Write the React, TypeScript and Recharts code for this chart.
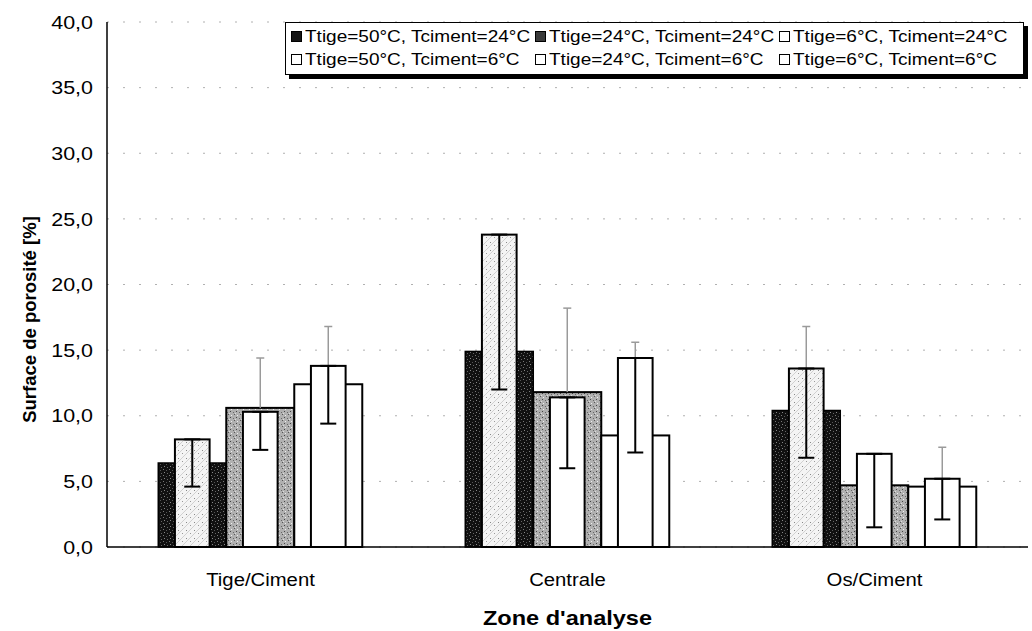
import { BarChart, Bar, XAxis, YAxis, CartesianGrid, ErrorBar, Legend, Label } from 'recharts';

const zones = ['Tige/Ciment', 'Centrale', 'Os/Ciment'];

// Tciment = 24°C (wide bars, behind)
const t50c24 = [6.4, 14.9, 10.4];
const t24c24 = [10.6, 11.8, 4.7];
const t6c24 = [12.4, 8.5, 4.6];
// Tciment = 6°C (narrow bars, in front)
const t50c6 = [8.2, 23.8, 13.6];
const t24c6 = [10.3, 11.4, 7.1];
const t6c6 = [13.8, 14.4, 5.2];

// upper error of the back series, lower error of the front series
const err50c24 = [1.5, 5.0, 6.4];
const err24c24 = [3.8, 6.4, 2.0];
const err6c24 = [4.4, 7.1, 3.0];
const err50c6 = [3.6, 11.8, 6.8];
const err24c6 = [2.9, 5.4, 5.6];
const err6c6 = [4.4, 7.2, 3.1];

const yTicks = [0, 5, 10, 15, 20, 25, 30, 35, 40];

const seriesNames: Record<string, string> = {
  t50c24: 'Ttige=50°C, Tciment=24°C',
  t24c24: 'Ttige=24°C, Tciment=24°C',
  t6c24: 'Ttige=6°C, Tciment=24°C',
  t50c6: 'Ttige=50°C, Tciment=6°C',
  t24c6: 'Ttige=24°C, Tciment=6°C',
  t6c6: 'Ttige=6°C, Tciment=6°C',
};
const legendOrder = ['t50c24', 't24c24', 't6c24', 't50c6', 't24c6', 't6c6'];

const data = zones.map((zone, i) => ({
  zone,
  t50c24: t50c24[i],
  t24c24: t24c24[i],
  t6c24: t6c24[i],
  t50c6: t50c6[i],
  t24c6: t24c6[i],
  t6c6: t6c6[i],
  u50c24: err50c24[i],
  u24c24: err24c24[i],
  u6c24: err6c24[i],
  e50c6: [err50c6[i], 0],
  e24c6: [err24c6[i], 0],
  e6c6: [err6c6[i], 0],
}));

const FONT = '"Liberation Sans", Arial, sans-serif';
const SX = 1.16; // the scan is a bit wider than tall

const swatchFill: Record<string, string> = {
  t50c24: '#151515',
  t24c24: '#3a3a3a',
  t6c24: '#fff',
  t50c6: '#fff',
  t24c6: '#fff',
  t6c6: '#fff',
};

function YTick({ x, y, payload }: any) {
  return (
    <text
      transform={`translate(${x},${y}) scale(${SX},1)`}
      textAnchor="end"
      dy="0.36em"
      fontSize={18.5}
      fontFamily={FONT}
      fill="#000"
    >
      {payload.value.toFixed(1).replace('.', ',')}
    </text>
  );
}

function XTick({ x, y, payload }: any) {
  return (
    <text
      transform={`translate(${x},${y + 31}) scale(${SX},1)`}
      textAnchor="middle"
      fontSize={17.5}
      fontFamily={FONT}
      fill="#000"
    >
      {payload.value}
    </text>
  );
}

// wide bar with its "plus" error bar, drawn in the bar layer so the front bars hide it
function BackBar(props: any) {
  const { x, y, width, height, fill, strokeWidth, payload, valKey, errKey } = props;
  const v = payload[valKey];
  const ppu = v ? height / v : 0;
  const cx = x + width / 2;
  const yTop = y - payload[errKey] * ppu;
  return (
    <g>
      <rect x={x} y={y} width={width} height={height} fill={fill} stroke="#000" strokeWidth={strokeWidth} />
      <line x1={cx} x2={cx} y1={y} y2={yTop} stroke="#9a9a9a" strokeWidth={1.5} />
      <line x1={cx - 4} x2={cx + 4} y1={yTop} y2={yTop} stroke="#9a9a9a" strokeWidth={1.5} />
    </g>
  );
}

function FrontBar(props: any) {
  const { x, y, width, height, fill } = props;
  const w = width * 0.51;
  return (
    <rect
      x={x + (width - w) / 2}
      y={y}
      width={w}
      height={height}
      fill={fill}
      stroke="#000"
      strokeWidth={2}
    />
  );
}

function LegendBox() {
  return (
    <div
      style={{
        border: '1px solid #000',
        boxShadow: '4px 4px 0 #000',
        background: '#fff',
        padding: '2px 0 3px 5px',
        display: 'flex',
        flexWrap: 'wrap',
        width: 732,
        fontFamily: FONT,
      }}
    >
      {legendOrder.map((k) => (
        <div key={k} style={{ width: 244, height: 23, display: 'flex', alignItems: 'center' }}>
          <span
            style={{
              width: 9,
              height: 9,
              border: '1.5px solid #000',
              background: swatchFill[k],
              marginRight: 3,
              flex: 'none',
            }}
          />
          <span
            style={{
              display: 'inline-block',
              fontSize: 16.4,
              color: '#000',
              whiteSpace: 'nowrap',
              transform: `scaleX(${SX})`,
              transformOrigin: 'left center',
            }}
          >
            {seriesNames[k]}
          </span>
        </div>
      ))}
    </div>
  );
}

export default function App() {
  return (
    <div style={{ position: 'absolute', left: 0, top: 0, width: 1032, height: 631, background: '#fff' }}>
      <BarChart
        width={1032}
        height={631}
        data={data}
        margin={{ top: 22, right: 4, left: 0, bottom: 44 }}
        barCategoryGap="16.7%"
        barGap={0}
      >
        <defs>
          <pattern id="darkDots" width="6" height="6" patternUnits="userSpaceOnUse">
            <rect width="6" height="6" fill="#111" />
            <rect x="1" y="1" width="1" height="1" fill="#777" />
            <rect x="4" y="2" width="1" height="1" fill="#555" />
            <rect x="2" y="4" width="1" height="1" fill="#888" />
            <rect x="5" y="5" width="1" height="1" fill="#666" />
          </pattern>
          <pattern id="greyDots" width="6" height="6" patternUnits="userSpaceOnUse">
            <rect width="6" height="6" fill="#b0b0b0" />
            <rect x="0" y="0" width="1" height="1" fill="#555" />
            <rect x="3" y="1" width="1" height="1" fill="#eee" />
            <rect x="2" y="3" width="1" height="1" fill="#444" />
            <rect x="5" y="4" width="1" height="1" fill="#666" />
            <rect x="1" y="5" width="1" height="1" fill="#ddd" />
          </pattern>
          <pattern id="lightHatch" width="8" height="8" patternUnits="userSpaceOnUse">
            <rect width="8" height="8" fill="#f4f4f4" />
            <path d="M0 8 L8 0" stroke="#c8c8c8" strokeWidth="0.8" />
            <rect x="2" y="2" width="1" height="1" fill="#888" />
            <rect x="6" y="5" width="1" height="1" fill="#999" />
          </pattern>
        </defs>
        <CartesianGrid vertical={false} stroke="#b0b0b0" strokeDasharray="2 14" />
        <XAxis
          xAxisId="back"
          dataKey="zone"
          height={40}
          tickLine={false}
          axisLine={{ stroke: '#000', strokeWidth: 1.5 }}
          tick={<XTick />}
        >
          <Label
            content={({ viewBox }: any) => (
              <text
                transform={`translate(${viewBox.x + viewBox.width / 2},${625}) scale(${SX},1)`}
                textAnchor="middle"
                fontSize={20.3}
                fontWeight="bold"
                fontFamily={FONT}
                fill="#000"
              >
                Zone d'analyse
              </text>
            )}
          />
        </XAxis>
        <XAxis xAxisId="front" dataKey="zone" hide />
        <YAxis
          width={107}
          domain={[0, 40]}
          ticks={yTicks}
          interval={0}
          tickLine={false}
          tickMargin={8}
          axisLine={{ stroke: '#000', strokeWidth: 1.5 }}
          tick={<YTick />}
        >
          <Label
            content={({ viewBox }: any) => {
              const cx = 30;
              const cy = viewBox.y + viewBox.height / 2 + 35;
              return (
                <text
                  transform={`rotate(-90 ${cx} ${cy})`}
                  x={cx}
                  y={cy}
                  textAnchor="middle"
                  dy="0.35em"
                  fontSize={18.5}
                  fontWeight="bold"
                  fontFamily={FONT}
                  fill="#000"
                >
                  Surface de porosité [%]
                </text>
              );
            }}
          />
        </YAxis>
        <YAxis
          yAxisId="frame"
          orientation="right"
          width={0}
          tick={false}
          tickLine={false}
          axisLine={{ stroke: '#777', strokeDasharray: '1 2' }}
        />
        <Legend
          layout="horizontal"
          verticalAlign="middle"
          align="center"
          wrapperStyle={{ top: 22, left: 285, width: 745 }}
          content={<LegendBox />}
        />

        <Bar
          xAxisId="back"
          dataKey="t50c24"
          name={seriesNames.t50c24}
          fill="url(#darkDots)"
          strokeWidth={1.5}
          shape={(p: any) => <BackBar {...p} valKey="t50c24" errKey="u50c24" />}
          isAnimationActive={false}
        />
        <Bar
          xAxisId="back"
          dataKey="t24c24"
          name={seriesNames.t24c24}
          fill="url(#greyDots)"
          strokeWidth={2}
          shape={(p: any) => <BackBar {...p} valKey="t24c24" errKey="u24c24" />}
          isAnimationActive={false}
        />
        <Bar
          xAxisId="back"
          dataKey="t6c24"
          name={seriesNames.t6c24}
          fill="#fff"
          strokeWidth={2}
          shape={(p: any) => <BackBar {...p} valKey="t6c24" errKey="u6c24" />}
          isAnimationActive={false}
        />

        <Bar xAxisId="front" dataKey="t50c6" name={seriesNames.t50c6} fill="url(#lightHatch)" shape={<FrontBar />} isAnimationActive={false}>
          <ErrorBar dataKey="e50c6" width={8} stroke="#000" strokeWidth={2} />
        </Bar>
        <Bar xAxisId="front" dataKey="t24c6" name={seriesNames.t24c6} fill="#fff" shape={<FrontBar />} isAnimationActive={false}>
          <ErrorBar dataKey="e24c6" width={8} stroke="#000" strokeWidth={2} />
        </Bar>
        <Bar xAxisId="front" dataKey="t6c6" name={seriesNames.t6c6} fill="#fff" shape={<FrontBar />} isAnimationActive={false}>
          <ErrorBar dataKey="e6c6" width={8} stroke="#000" strokeWidth={2} />
        </Bar>
      </BarChart>
    </div>
  );
}
